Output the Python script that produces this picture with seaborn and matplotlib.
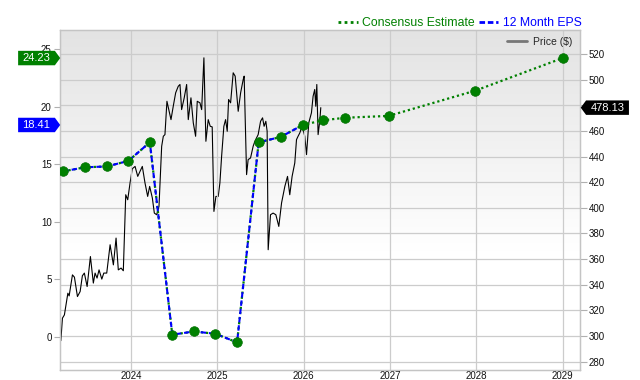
import numpy as np
import matplotlib
matplotlib.use("Agg")
import matplotlib.pyplot as plt
import seaborn as sns
from matplotlib.lines import Line2D
from matplotlib.path import Path
from matplotlib import transforms

# ---------------- data ----------------
price_year = [2023.190, 2023.208, 2023.231, 2023.271, 2023.286, 2023.324, 2023.347, 2023.382,
              2023.413, 2023.439, 2023.462, 2023.494, 2023.532, 2023.566, 2023.586, 2023.609,
              2023.632, 2023.664, 2023.687, 2023.721, 2023.760, 2023.798, 2023.829, 2023.855,
              2023.887, 2023.913, 2023.941, 2023.964, 2023.991, 2024.017, 2024.049,
              2024.080, 2024.106, 2024.133, 2024.164, 2024.195, 2024.218, 2024.249, 2024.272,
              2024.299, 2024.326, 2024.357, 2024.376, 2024.395, 2024.418, 2024.465, 2024.491,
              2024.519, 2024.549, 2024.569, 2024.588, 2024.618, 2024.646, 2024.665, 2024.696,
              2024.723, 2024.750, 2024.769, 2024.800, 2024.820, 2024.846, 2024.869, 2024.896,
              2024.919, 2024.942, 2024.962, 2024.985, 2025.012, 2025.031,
              2025.051, 2025.077, 2025.097, 2025.116, 2025.132, 2025.155, 2025.185, 2025.208,
              2025.243, 2025.271, 2025.301, 2025.312, 2025.340, 2025.358, 2025.386, 2025.416,
              2025.436, 2025.474, 2025.502, 2025.525, 2025.543, 2025.563, 2025.578,
              2025.590, 2025.617, 2025.647, 2025.679, 2025.713, 2025.745, 2025.783, 2025.814,
              2025.840, 2025.867, 2025.898, 2025.918, 2025.936, 2025.956, 2025.983, 2026.014,
              2026.034, 2026.060, 2026.091, 2026.110, 2026.129, 2026.141, 2026.153, 2026.168,
              2026.187, 2026.199]
price_value = [296.4, 313.9, 316.5, 333.4, 331.3, 347.7, 345.9, 330.8,
               334.7, 347.0, 349.1, 338.6, 362.0, 341.3, 349.1, 345.2,
               351.6, 344.4, 349.1, 349.1, 371.2, 355.5, 376.4, 351.6,
               353.0, 350.9, 410.2, 406.3, 419.4, 430.5, 432.3,
               424.5, 428.4, 432.3, 419.4, 408.9, 416.7, 407.7, 395.9,
               394.6, 401.1, 448.0, 455.8, 457.1, 483.1, 468.8, 479.2,
               489.7, 494.8, 496.2, 476.6, 485.8, 496.2, 468.8, 485.8,
               466.3, 455.8, 483.1, 481.9, 476.6, 517.0, 451.9, 468.8,
               463.6, 463.1, 397.2, 408.9, 408.9, 419.4,
               440.2, 463.6, 468.8, 459.7, 484.5, 481.9, 505.3, 502.7,
               475.3, 489.7, 500.1, 502.7, 425.9, 437.6, 438.9, 448.0,
               451.9, 457.1, 467.5, 470.2, 463.6, 467.5, 459.7,
               367.3, 394.6, 395.9, 394.6, 385.5, 403.8, 416.7, 424.5,
               410.2, 424.5, 435.0, 453.2, 455.8, 458.4, 463.6, 455.8,
               441.5, 466.3, 474.1, 487.0, 492.3, 479.2, 496.2, 457.1,
               467.5, 478.13]

eps_year = [2023.22, 2023.47, 2023.72, 2023.97, 2024.22, 2024.48, 2024.73, 2024.98,
            2025.23, 2025.48, 2025.735, 2025.99]
eps_value = [14.38, 14.73, 14.80, 15.28, 16.90, 0.17, 0.45, 0.25, -0.50, 16.90, 17.37, 18.41]

cons_year = [2025.99, 2026.225, 2026.485, 2026.985, 2027.99, 2029.0]
cons_value = [18.41, 18.82, 19.04, 19.20, 21.40, 24.23]

x_ticks = [2024, 2025, 2026, 2027, 2028, 2029]
eps_ticks = [0, 5, 10, 15, 20, 25]
price_ticks = list(range(280, 521, 20))

last_eps, next_eps, last_price = 18.41, 24.23, 478.13

# ---------------- style ----------------
sns.set_style("white")
plt.rcParams['font.family'] = ['Liberation Sans', 'DejaVu Sans']

fig = plt.figure(figsize=(6.4, 3.8), dpi=100)
ax = fig.add_axes([60 / 640, 10 / 380, 520 / 640, 340 / 380])
ax2 = ax.twinx()
ax.set_zorder(ax2.get_zorder() + 1)
ax.patch.set_visible(False)

# background gradient (grey at top -> white)
t = np.linspace(0, 1, 340)
shade = np.clip(0.89 + (1 - 0.89) * (t / 0.65), 0, 1)
img = np.dstack([shade, shade, shade]).reshape(340, 1, 3)
ax2.imshow(img, extent=[0, 1, 0, 1], transform=ax2.transAxes, aspect='auto',
           zorder=-10, origin='upper', interpolation='nearest')

# price line
sns.lineplot(x=price_year, y=price_value, ax=ax2, color='black', lw=0.8,
             estimator=None, sort=False)

# EPS lines
all_year = eps_year + cons_year[1:]
all_value = eps_value + cons_value[1:]
sns.lineplot(x=all_year, y=all_value, ax=ax, color='#008000', lw=1.6,
             linestyle=(0, (1, 1.3)), estimator=None, sort=False)
sns.lineplot(x=eps_year, y=eps_value, ax=ax, color='#0000ff', lw=1.5,
             linestyle=(0, (2.6, 1.4)), estimator=None, sort=False)
sns.scatterplot(x=all_year, y=all_value, ax=ax, color='#008000', s=48,
                edgecolor='#007000', linewidth=0.5, zorder=5)

# axes
ax.set_xlim(2023.18, 2029.2)
ax.set_ylim(-2.9, 26.67)
ax2.set_ylim(273.5, 538.7)
ax.set_xticks(x_ticks)
ax.set_xticklabels([str(v) for v in x_ticks])
ax.set_yticks(eps_ticks)
ax2.set_yticks(price_ticks)
ax.set_xlabel('')
ax.set_ylabel('')
ax2.set_ylabel('')

gc = '#cccccc'
ax2.grid(axis='y', color=gc, lw=0.9)
ax.grid(axis='x', color=gc, lw=0.9)
ax.grid(axis='y', visible=False)
ax.tick_params(axis='x', length=0, pad=0.5, labelsize=7, colors='#111111')
ax.tick_params(axis='y', length=4.5, width=0.8, color='#b0b0b0', labelsize=7,
               labelcolor='#111111', pad=1.5)
ax2.tick_params(axis='y', length=5, width=0.8, color='#b0b0b0', labelsize=7,
                labelcolor='#111111', pad=1.5)
for a in (ax, ax2):
    for s in a.spines.values():
        s.set_color('#c4c4c4')
        s.set_linewidth(0.9)


# pentagon label boxes
def make_pent(direction):
    def pent(x0, y0, width, height, mutation_size):
        px = 0.40 * mutation_size
        py = 0.20 * mutation_size
        x0 -= px
        y0 -= py
        w = width + 2 * px
        h = height + 2 * py
        tip = 0.48 * mutation_size
        if direction == 'right':
            verts = [(x0, y0), (x0 + w, y0), (x0 + w + tip, y0 + h / 2),
                     (x0 + w, y0 + h), (x0, y0 + h), (x0, y0)]
        else:
            verts = [(x0, y0), (x0 + w, y0), (x0 + w, y0 + h), (x0, y0 + h),
                     (x0 - tip, y0 + h / 2), (x0, y0)]
        return Path(verts, closed=True)
    return pent


tl = transforms.blended_transform_factory(fig.transFigure, ax.transData)
tr = transforms.blended_transform_factory(fig.transFigure, ax2.transData)
ax.text(36.5 / 640, next_eps, f"{next_eps:.2f}", transform=tl, ha='center', va='center',
        color='white', fontsize=8, clip_on=False, zorder=10,
        bbox=dict(boxstyle=make_pent('right'), fc='#008000', ec='none'))
ax.text(36.5 / 640, last_eps, f"{last_eps:.2f}", transform=tl, ha='center', va='center',
        color='white', fontsize=8, clip_on=False, zorder=10,
        bbox=dict(boxstyle=make_pent('right'), fc='#0000ff', ec='none'))
ax.text(607.5 / 640, last_price, f"{last_price:.2f}", transform=tr, ha='center', va='center',
        color='white', fontsize=8, clip_on=False, zorder=10,
        bbox=dict(boxstyle=make_pent('left'), fc='black', ec='none'))

# legends
h1 = [Line2D([], [], color='#008000', lw=2, linestyle=(0, (1, 1.2))),
      Line2D([], [], color='#0000ff', lw=2, linestyle=(0, (2, 1)))]
fig.legend(handles=h1, labels=['Consensus Estimate', '12 Month EPS'],
           loc='center right', bbox_to_anchor=(582 / 640, 1 - 23 / 380), ncol=2,
           frameon=False, fontsize=8.8, labelcolor=['#008000', '#0000ff'],
           handlelength=1.6, handletextpad=0.4, columnspacing=0.3,
           borderaxespad=0, borderpad=0)
ax.legend(handles=[Line2D([], [], color='#777777', lw=2)], labels=['Price ($)'],
          loc='center right', bbox_to_anchor=(572 / 640, 1 - 42 / 380),
          bbox_transform=fig.transFigure, frameon=False, fontsize=7.5,
          handlelength=2.0, handletextpad=0.5, borderpad=0, borderaxespad=0)

fig.savefig('out.png', dpi=100)
